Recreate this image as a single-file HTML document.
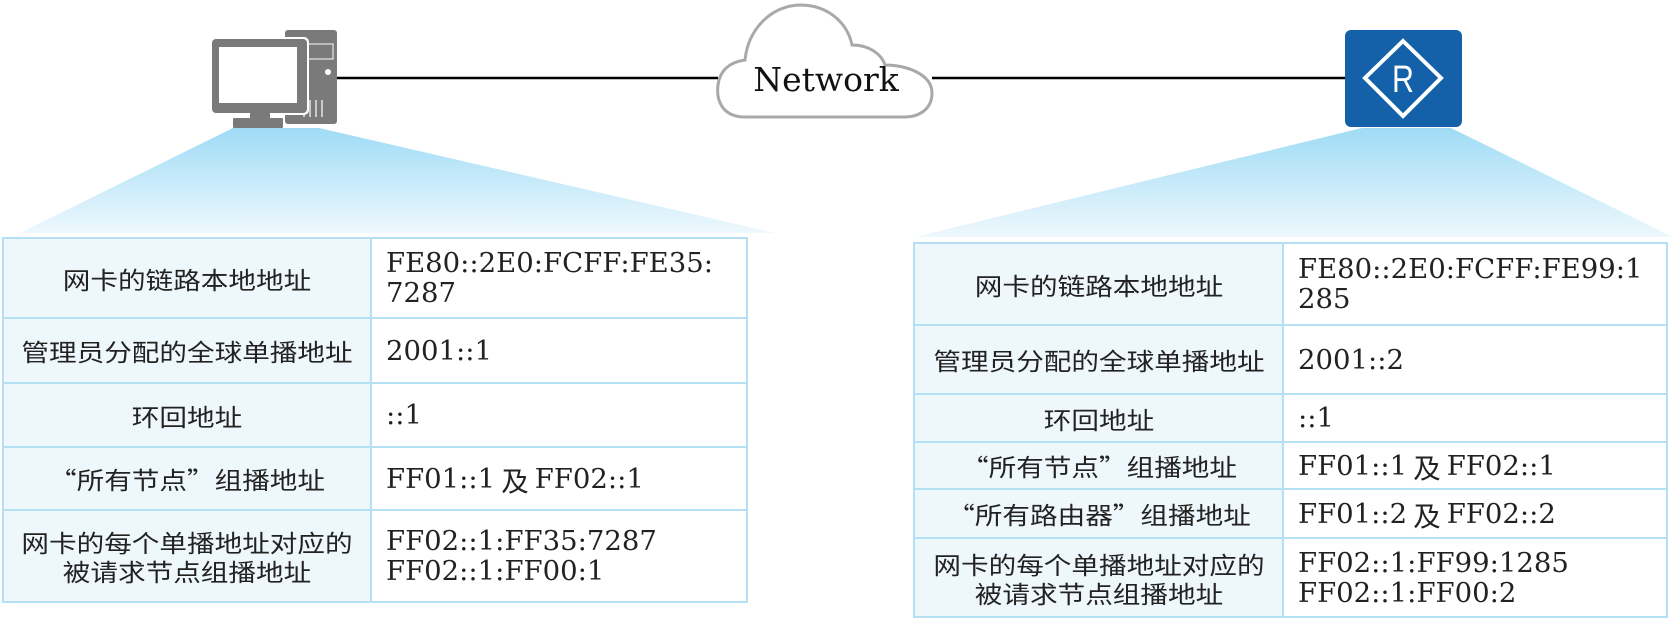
<!DOCTYPE html>
<html><head><meta charset="utf-8"><style>
body{margin:0;width:1673px;height:619px;background:#fff;position:relative;overflow:hidden;font-family:"Liberation Serif","DejaVu Serif",serif}
.c{position:absolute;box-sizing:border-box;border:2px solid #b5e0f3;display:flex;align-items:center}
.k{background:#eef7fc;justify-content:center;text-align:center;font-family:"Noto Sans CJK SC",sans-serif;font-size:24px;color:#222;line-height:29px}
.k span{display:inline-block;transform:scaleX(1.15)}
.v{background:#fff;padding-left:14px;font-family:"DejaVu Serif","Liberation Serif",serif;font-size:27.5px;color:#222;line-height:30px;white-space:nowrap}
</style></head><body>
<svg width="1673" height="619" style="position:absolute;left:0;top:0">
<defs>
<linearGradient id="g" x1="0" y1="0" x2="0" y2="1">
<stop offset="0" stop-color="#9fdcf6"/><stop offset="1" stop-color="#eef8fd"/></linearGradient>
</defs>
<polygon points="233,128 319,128 775,233 20,233" fill="url(#g)"/>
<polygon points="1362,128 1451,128 1673,237 915,237" fill="url(#g)"/>
<line x1="336" y1="78" x2="718" y2="78" stroke="#000" stroke-width="2.5"/>
<line x1="932" y1="78" x2="1346" y2="78" stroke="#000" stroke-width="2.5"/>
<path d="M745,117 C722,117 716,100 718,85 C720,70 730,62 745,60 C748,30 770,6 800,5 C830,5 848,25 852,45 C870,45 882,55 885,65 C908,65 932,75 932,93 C932,110 918,117 905,117 Z" fill="#fff" stroke="#a9a9a9" stroke-width="3"/>
<text x="826" y="91" text-anchor="middle" font-family="DejaVu Serif,Liberation Serif,serif" font-size="33" fill="#111">Network</text>
<rect x="285" y="30" width="52" height="94" rx="3" fill="#7a7a7a"/>
<rect x="307" y="44" width="26" height="15" fill="none" stroke="#fff" stroke-width="1"/>
<circle cx="328" cy="72" r="3" fill="#fff"/>
<g stroke="#fff" stroke-width="1.2"><line x1="304" y1="100" x2="304" y2="117"/><line x1="310" y1="100" x2="310" y2="117"/><line x1="316" y1="100" x2="316" y2="117"/><line x1="322" y1="100" x2="322" y2="117"/></g>
<rect x="210" y="37" width="99" height="78" rx="5" fill="#fff"/>
<rect x="212" y="39" width="95" height="74" rx="4" fill="#7a7a7a"/>
<rect x="219" y="47" width="78" height="56" fill="#fff"/>
<rect x="250" y="113" width="20" height="5" fill="#7a7a7a"/>
<rect x="233" y="118" width="50" height="10" rx="1" fill="#7a7a7a"/>
<rect x="1345" y="30" width="117" height="97" rx="6" fill="#1561a9"/>
<polygon points="1403,41 1441,78 1403,116 1365,78" fill="none" stroke="#fff" stroke-width="4"/>
<text x="1403" y="92" text-anchor="middle" font-family="Liberation Sans,sans-serif" font-size="38" fill="#fff" transform="translate(1403 0) scale(0.8 1) translate(-1403 0)">R</text>
</svg>

<div class="c k" style="left:2px;top:237px;width:370px;height:82px"><span>网卡的链路本地地址</span></div>
<div class="c v" style="left:370px;top:237px;width:378px;height:82px">FE80::2E0:FCFF:FE35:<br>7287</div>
<div class="c k" style="left:2px;top:317px;width:370px;height:67px"><span>管理员分配的全球单播地址</span></div>
<div class="c v" style="left:370px;top:317px;width:378px;height:67px">2001::1</div>
<div class="c k" style="left:2px;top:382px;width:370px;height:66px"><span>环回地址</span></div>
<div class="c v" style="left:370px;top:382px;width:378px;height:66px">::1</div>
<div class="c k" style="left:2px;top:446px;width:370px;height:65px"><span>“所有节点”组播地址</span></div>
<div class="c v" style="left:370px;top:446px;width:378px;height:65px">FF01::1 <span style="font-family:'Noto Sans CJK SC',sans-serif;margin:0 6px">及</span> FF02::1</div>
<div class="c k" style="left:2px;top:509px;width:370px;height:94px"><span>网卡的每个单播地址对应的<br>被请求节点组播地址</span></div>
<div class="c v" style="left:370px;top:509px;width:378px;height:94px">FF02::1:FF35:7287<br>FF02::1:FF00:1</div>

<div class="c k" style="left:913px;top:242px;width:371px;height:84px"><span>网卡的链路本地地址</span></div>
<div class="c v" style="left:1282px;top:242px;width:386px;height:84px">FE80::2E0:FCFF:FE99:1<br>285</div>
<div class="c k" style="left:913px;top:324px;width:371px;height:71px"><span>管理员分配的全球单播地址</span></div>
<div class="c v" style="left:1282px;top:324px;width:386px;height:71px">2001::2</div>
<div class="c k" style="left:913px;top:393px;width:371px;height:50px"><span>环回地址</span></div>
<div class="c v" style="left:1282px;top:393px;width:386px;height:50px">::1</div>
<div class="c k" style="left:913px;top:441px;width:371px;height:49px"><span>“所有节点”组播地址</span></div>
<div class="c v" style="left:1282px;top:441px;width:386px;height:49px">FF01::1 <span style="font-family:'Noto Sans CJK SC',sans-serif;margin:0 6px">及</span> FF02::1</div>
<div class="c k" style="left:913px;top:488px;width:371px;height:51px"><span>“所有路由器”组播地址</span></div>
<div class="c v" style="left:1282px;top:488px;width:386px;height:51px">FF01::2 <span style="font-family:'Noto Sans CJK SC',sans-serif;margin:0 6px">及</span> FF02::2</div>
<div class="c k" style="left:913px;top:537px;width:371px;height:81px"><span>网卡的每个单播地址对应的<br>被请求节点组播地址</span></div>
<div class="c v" style="left:1282px;top:537px;width:386px;height:81px">FF02::1:FF99:1285<br>FF02::1:FF00:2</div>
</body></html>
